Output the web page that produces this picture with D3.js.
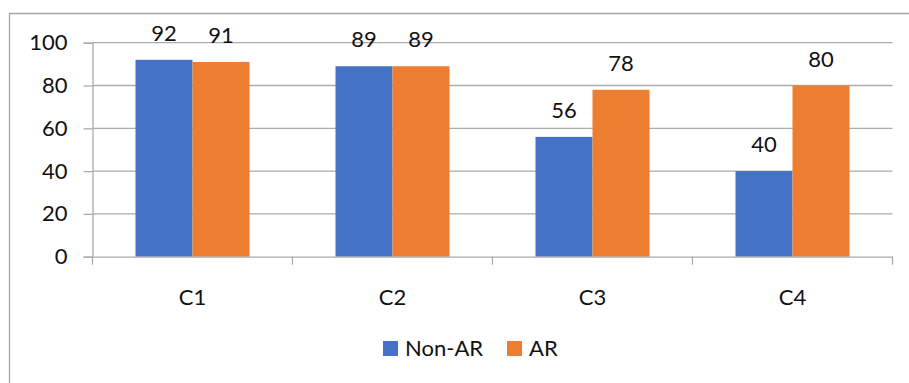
<!DOCTYPE html>
<html>
<head>
<meta charset="utf-8">
<script src="https://cdn.jsdelivr.net/npm/d3@7"></script>
<style>
  html, body { margin: 0; padding: 0; background: #fff; }
  svg { display: block; font-family: Lato, "Noto Sans", sans-serif; }
</style>
</head>
<body>
<svg id="chart" width="909" height="383"></svg>
<script>
// Categories, series and values
const categories = ["C1", "C2", "C3", "C4"];
const seriesNames = ["Non-AR", "AR"];
const nonArValues = [92, 89, 56, 40];
const arValues = [91, 89, 78, 80];
const yTicks = [0, 20, 40, 60, 80, 100];
const seriesColors = ["#4472C4", "#ED7D31"];

const rows = categories.map((c, i) => ({ cat: c, values: [nonArValues[i], arValues[i]] }));

const svg = d3.select("#chart");
const W = 909, H = 383;
const plot = { left: 92.5, right: 892.5, top: 42.7, bottom: 256.7 };
const gridColor = "#ababab";
const textColor = "#111";

// Outer frame (left and top edges visible)
svg.append("path")
  .attr("d", `M9.5,${H} L9.5,13.5 L${W},13.5`)
  .attr("fill", "none")
  .attr("stroke", "#a6a6a6")
  .attr("stroke-width", 1.3);

const x0 = d3.scaleBand().domain(categories).range([plot.left, plot.right]).padding(0);
const groupFrac = 0.57;
const x1 = d3.scaleBand().domain(seriesNames)
  .range([x0.bandwidth() * (1 - groupFrac) / 2, x0.bandwidth() * (1 + groupFrac) / 2]);
const y = d3.scaleLinear().domain([0, 100]).range([plot.bottom, plot.top]);

// Horizontal gridlines
svg.append("g").selectAll("line").data(yTicks.filter(t => t > 0)).join("line")
  .attr("x1", plot.left).attr("x2", plot.right)
  .attr("y1", d => y(d)).attr("y2", d => y(d))
  .attr("stroke", gridColor).attr("stroke-width", 1.3);

// Y axis
const yAxis = svg.append("g")
  .attr("transform", `translate(${plot.left},0)`)
  .call(d3.axisLeft(y).tickValues(yTicks).tickSize(9).tickPadding(16));
yAxis.select(".domain").attr("stroke", gridColor).attr("stroke-width", 1.3);
yAxis.selectAll(".tick line").attr("stroke", gridColor).attr("stroke-width", 1.3);
yAxis.selectAll(".tick text")
  .attr("fill", textColor).attr("font-size", 22).attr("font-family", "Lato, sans-serif");

// Bars
const groups = svg.append("g").selectAll("g").data(rows).join("g")
  .attr("transform", d => `translate(${x0(d.cat)},0)`);

groups.selectAll("rect").data(d => d.values.map((v, j) => ({ s: seriesNames[j], v, j }))).join("rect")
  .attr("x", d => x1(d.s))
  .attr("width", x1.bandwidth())
  .attr("y", d => y(d.v))
  .attr("height", d => y(0) - y(d.v))
  .attr("fill", d => seriesColors[d.j]);

// Value labels
groups.selectAll("text").data(d => d.values.map((v, j) => ({ s: seriesNames[j], v, j }))).join("text")
  .attr("x", d => x1(d.s) + x1.bandwidth() / 2)
  .attr("y", d => y(d.v) - 19)
  .attr("text-anchor", "middle")
  .attr("font-size", 22)
  .attr("fill", textColor)
  .text(d => d.v);

// Category axis
const xAxis = svg.append("g")
  .attr("transform", `translate(0,${plot.bottom})`)
  .call(d3.axisBottom(x0).tickSize(0).tickPadding(33));
xAxis.select(".domain").attr("stroke", gridColor).attr("stroke-width", 1.3);
xAxis.selectAll(".tick text")
  .attr("fill", textColor).attr("font-size", 22).attr("font-family", "Lato, sans-serif");

// Category boundary ticks
const bounds = categories.map(c => x0(c)).concat([plot.right]);
svg.append("g").selectAll("line").data(bounds).join("line")
  .attr("x1", d => d).attr("x2", d => d)
  .attr("y1", plot.bottom).attr("y2", plot.bottom + 8)
  .attr("stroke", gridColor).attr("stroke-width", 1.3);

// Legend
const legend = svg.append("g").attr("transform", "translate(383,341)");
const legendX = [0, 124];
seriesNames.forEach((name, i) => {
  const g = legend.append("g").attr("transform", `translate(${legendX[i]},0)`);
  g.append("rect").attr("width", 15).attr("height", 15).attr("fill", seriesColors[i]);
  g.append("text").attr("x", 22).attr("y", 14.5)
    .attr("font-size", 22).attr("fill", textColor).text(name);
});
</script>
</body>
</html>
